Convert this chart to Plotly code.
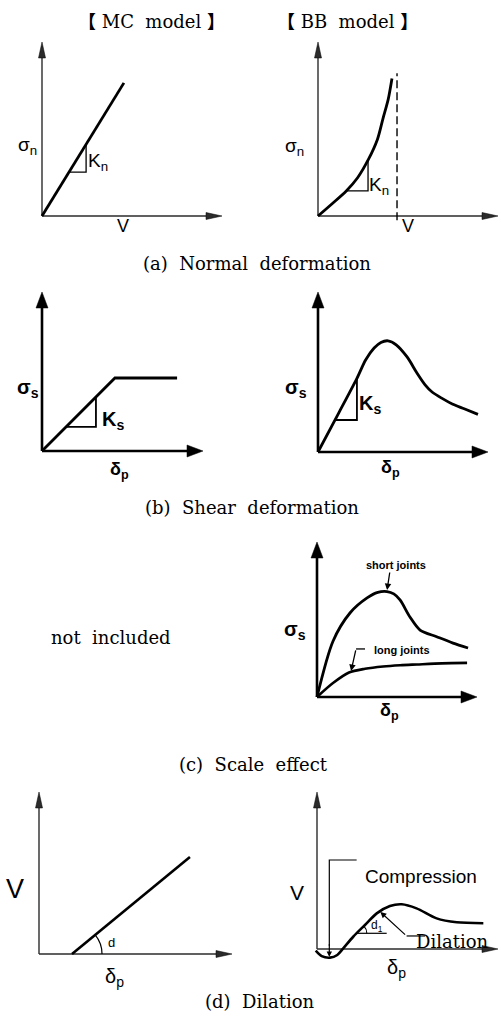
import plotly.graph_objects as go

W, H = 501, 1018
AX = 10  # every small diagram uses axes running 0..10

# ------------------------------------------------------------------ data
AXIS_X = [0, AX]
AXIS_Y = [0, AX]

# (a) Normal deformation
MC_N_X = [0, 4.55]
MC_N_Y = [0, 7.65]
MC_N_TRI_X = [1.5, 2.45, 2.45]
MC_N_TRI_Y = [2.52, 2.52, 4.12]
BB_N_X = [0, 0.8, 1.57, 2.2, 2.8, 3.3, 3.61, 3.9, 4.11]
BB_N_Y = [0, 0.72, 1.44, 2.2, 3.25, 4.4, 5.6, 6.7, 7.9]
BB_N_TRI_X = [1.56, 2.78, 2.78]
BB_N_TRI_Y = [1.44, 1.44, 3.22]
BB_N_LIMIT_X = [4.39, 4.39]
BB_N_LIMIT_Y = [-0.25, 8.2]

# (b) Shear deformation
MC_S_X = [0, 4.53, 8.39]
MC_S_Y = [0, 4.59, 4.59]
MC_S_TRI_X = [1.5, 3.35, 3.35]
MC_S_TRI_Y = [1.52, 1.52, 3.39]
BB_S_X = [0, 1.2, 2.29, 2.8, 3.3, 3.7, 4.12, 4.6, 5.24, 5.82, 6.3, 6.71, 7.3, 7.9, 8.6, 9.41]
BB_S_Y = [0, 2.4, 4.6, 5.75, 6.5, 6.85, 6.95, 6.7, 5.94, 4.94, 4.2, 3.75, 3.35, 3.0, 2.7, 2.35]
BB_S_TRI_X = [1.0, 2.29, 2.29]
BB_S_TRI_Y = [2.0, 2.0, 4.58]

# (c) Scale effect
SHORT_X = [0, 1.0, 2.06, 3.13, 3.8, 4.38, 4.8, 5.19, 5.81, 6.44, 7.48, 8.5, 9.44]
SHORT_Y = [0, 3.6, 5.42, 6.39, 6.75, 6.8, 6.65, 6.26, 5.16, 4.32, 3.89, 3.48, 3.16]
LONG_X = [0, 1.0, 2.0, 3.0, 4.13, 5.2, 6.25, 7.8, 9.38]
LONG_Y = [0, 0.9, 1.58, 1.82, 1.97, 2.05, 2.1, 2.17, 2.2]
SHORT_LEADER = dict(head=(4.38, 6.9), tail=(4.56, 8.13))
LONG_LEADER_X = [2.44, 3.0]
LONG_LEADER_Y = [3.1, 3.1]
LONG_LEADER = dict(head=(2.13, 1.68), tail=(2.44, 3.1))

# (d) Dilation
MC_D_X = [1.71, 7.82]
MC_D_Y = [0, 5.99]
BB_D_X = [-0.07, 0.26, 0.72, 1.12, 1.45, 2.0, 2.65, 3.3, 4.03, 4.68, 5.5, 6.61, 7.72, 9.19]
BB_D_Y = [-0.1, -0.45, -0.55, -0.38, 0.04, 0.78, 1.53, 2.27, 2.74, 2.85, 2.59, 1.95, 1.70, 1.64]
COMP_X = [2.19, 0.68, 0.68]
COMP_Y = [5.67, 5.67, 0.2]
COMP_ARROW = dict(head=(0.68, -0.5), tail=(0.68, 0.4))
D1_X = [2.2, 3.85]
D1_Y = [1.0, 1.0]
DIL_X = [4.95, 5.97]
DIL_Y = [0.83, 0.83]
DIL_ARROW = dict(head=(3.5, 2.36), tail=(4.95, 0.83))

# ------------------------------------------------------------------ layout geometry
SANS = "Liberation Sans, Arial, sans-serif"
SERIF = "DejaVu Serif, Noto Sans CJK SC, serif"

STYLES = {
    "thin": dict(w=1.4, color="#2b2b2b", alen=16, awid=7),
    "bold": dict(w=2.6, color="#000000", alen=16, awid=12),
}
PANELS = {
    "aMC": dict(ox=42, oy=216, lx=180, ly=174, style="thin"),
    "aBB": dict(ox=318, oy=216, lx=180, ly=174, style="thin"),
    "bMC": dict(ox=42, oy=451, lx=161, ly=159, style="bold"),
    "bBB": dict(ox=318, oy=452, lx=170, ly=160, style="bold"),
    "cBB": dict(ox=317, oy=697, lx=160, ly=155, style="bold"),
    "dMC": dict(ox=39, oy=954, lx=193, ly=162, style="thin"),
    "dBB": dict(ox=317, oy=949, lx=181, ly=157, style="thin"),
}
PAD_L, PAD_B, PAD_T, PAD_R = 40, 38, 4, 3

fig = go.Figure()
axes_layout = {}
for i, (key, p) in enumerate(PANELS.items(), start=1):
    sx, sy = p["lx"] / AX, p["ly"] / AX
    x0 = max(0, p["ox"] - PAD_L)
    x1 = min(W, p["ox"] + p["lx"] + PAD_R)
    ytop = p["oy"] - p["ly"] - PAD_T
    ybot = min(H, p["oy"] + PAD_B)
    sfx = "" if i == 1 else str(i)
    axes_layout["xaxis" + sfx] = dict(domain=[x0 / W, x1 / W],
                                      range=[(x0 - p["ox"]) / sx, (x1 - p["ox"]) / sx],
                                      visible=False, anchor="y" + sfx, fixedrange=True)
    axes_layout["yaxis" + sfx] = dict(domain=[1 - ybot / H, 1 - ytop / H],
                                      range=[(p["oy"] - ybot) / sy, (p["oy"] - ytop) / sy],
                                      visible=False, anchor="x" + sfx, fixedrange=True)
    p["xa"], p["ya"], p["sx"], p["sy"] = "x" + sfx, "y" + sfx, sx, sy


def line(panel, x, y, width=2.6, color="#000", dash="solid", shape="linear"):
    p = PANELS[panel]
    fig.add_trace(go.Scatter(x=x, y=y, mode="lines", xaxis=p["xa"], yaxis=p["ya"],
                             line=dict(width=width, color=color, dash=dash, shape=shape,
                                       smoothing=0.8 if shape == "spline" else None),
                             hoverinfo="skip", showlegend=False))


def label(panel, text, x, y, size=18, family=SANS, xanchor="center"):
    p = PANELS[panel]
    fig.add_annotation(x=x, y=y, xref=p["xa"], yref=p["ya"], text=text, showarrow=False,
                       font=dict(family=family, size=size, color="#000"),
                       xanchor=xanchor, yanchor="middle")


def arrow(panel, spec, width=1.2, size=1.0):
    p = PANELS[panel]
    fig.add_annotation(x=spec["head"][0], y=spec["head"][1], ax=spec["tail"][0], ay=spec["tail"][1],
                       xref=p["xa"], yref=p["ya"], axref=p["xa"], ayref=p["ya"], text="",
                       showarrow=True, arrowhead=2, arrowsize=size, arrowwidth=width,
                       arrowcolor="#000", standoff=0)


def pix_path(panel, anchor, path, fill=None, width=1.2, color="#000"):
    p = PANELS[panel]
    fig.add_shape(type="path", xref=p["xa"], yref=p["ya"], xsizemode="pixel", ysizemode="pixel",
                  xanchor=anchor[0], yanchor=anchor[1], path=path,
                  fillcolor=fill if fill else "rgba(0,0,0,0)",
                  line=dict(width=width if not fill else 0.5, color=color), layer="above")


# axes with arrowheads
for key, p in PANELS.items():
    st = STYLES[p["style"]]
    back_x = st["alen"] * 0.5 / p["sx"]
    back_y = st["alen"] * 0.5 / p["sy"]
    line(key, [AXIS_X[0], AXIS_X[1] - back_x], [0, 0], width=st["w"], color=st["color"])
    line(key, [0, 0], [AXIS_Y[0], AXIS_Y[1] - back_y], width=st["w"], color=st["color"])
    L, hw = st["alen"], st["awid"] / 2
    pix_path(key, (AXIS_X[1], 0), f"M0,0 L{-L},{hw} L{-L},{-hw} Z", fill=st["color"])
    pix_path(key, (0, AXIS_Y[1]), f"M0,0 L{-hw},{-L} L{hw},{-L} Z", fill=st["color"])

# (a)
line("aMC", MC_N_X, MC_N_Y, width=2.8)
line("aMC", MC_N_TRI_X, MC_N_TRI_Y, width=1.3)
line("aBB", BB_N_X, BB_N_Y, width=2.8, shape="spline")
line("aBB", BB_N_TRI_X, BB_N_TRI_Y, width=1.3)
line("aBB", BB_N_LIMIT_X, BB_N_LIMIT_Y, width=1.4, dash="8px,4px")
label("aMC", "σ<sub>n</sub>", -0.78, 4.02, size=19)
label("aMC", "K<sub>n</sub>", 3.1, 3.1, size=19)
label("aMC", "V", 4.5, -0.55, size=18)
label("aBB", "σ<sub>n</sub>", -1.3, 3.97, size=19)
label("aBB", "K<sub>n</sub>", 3.4, 1.75, size=19)
label("aBB", "V", 5.0, -0.6, size=18)

# (b)
line("bMC", MC_S_X, MC_S_Y, width=2.8)
line("bMC", MC_S_TRI_X, MC_S_TRI_Y, width=1.8)
line("bBB", BB_S_X, BB_S_Y, width=2.8, shape="spline")
line("bBB", BB_S_TRI_X, BB_S_TRI_Y, width=1.8)
label("bMC", "<b>σ<sub>s</sub></b>", -0.87, 3.96, size=20)
label("bMC", "<b>K<sub>s</sub></b>", 4.4, 1.9, size=20)
label("bMC", "<b>δ<sub>p</sub></b>", 4.84, -1.2, size=18)
label("bBB", "<b>σ<sub>s</sub></b>", -1.29, 4.0, size=20)
label("bBB", "<b>K<sub>s</sub></b>", 3.05, 3.0, size=20)
label("bBB", "<b>δ<sub>p</sub></b>", 4.24, -1.05, size=18)

# (c)
line("cBB", SHORT_X, SHORT_Y, width=2.8, shape="spline")
line("cBB", LONG_X, LONG_Y, width=2.6, shape="spline")
arrow("cBB", SHORT_LEADER, width=1.3, size=1.0)
line("cBB", LONG_LEADER_X, LONG_LEADER_Y, width=1.3)
arrow("cBB", LONG_LEADER, width=1.3, size=1.0)
label("cBB", "<b>short joints</b>", 4.94, 8.52, size=11)
label("cBB", "<b>long joints</b>", 5.31, 3.05, size=11)
label("cBB", "<b>σ<sub>s</sub></b>", -1.375, 4.32, size=20)
label("cBB", "<b>δ<sub>p</sub></b>", 4.56, -0.95, size=18)

# (d)
line("dMC", MC_D_X, MC_D_Y, width=2.6)
pix_path("dMC", (MC_D_X[0], MC_D_Y[0]), "M30,0 C30,6.94 27.59,13.68 23.18,19.04", width=1.2)
label("dMC", "d", 3.78, 0.74, size=13)
label("dMC", "V", -1.24, 4.0, size=27)
label("dMC", "δ<sub>p</sub>", 3.9, -1.48, size=20)

line("dBB", BB_D_X, BB_D_Y, width=2.6, shape="spline")
line("dBB", COMP_X, COMP_Y, width=1.2)
arrow("dBB", COMP_ARROW, width=1.2, size=0.9)
line("dBB", D1_X, D1_Y, width=1.2)
pix_path("dBB", (D1_X[0], D1_Y[0]), "M10,0 C10,2.65 8.94,5.2 7.07,7.07", width=1.1)
line("dBB", DIL_X, DIL_Y, width=1.2)
arrow("dBB", DIL_ARROW, width=1.2, size=1.0)
label("dBB", "Compression", 5.75, 4.65, size=19)
label("dBB", "d<sub>1</sub>", 3.31, 1.45, size=12)
label("dBB", "Dilation", 7.5, 0.5, size=18, family=SERIF)
label("dBB", "V", -1.12, 3.6, size=21)
label("dBB", "δ<sub>p</sub>", 4.4, -1.25, size=20)

# ------------------------------------------------------------------ captions
CAPTIONS = [
    ("<b>【</b>\u00a0MC\u00a0 model\u00a0<b>】</b>", 151, 22),
    ("<b>【</b>\u00a0BB\u00a0 model\u00a0<b>】</b>", 347, 22),
    ("(a)\u00a0 Normal\u00a0 deformation", 257, 263),
    ("(b)\u00a0 Shear\u00a0 deformation", 252, 507),
    ("not\u00a0 included", 111, 637),
    ("(c)\u00a0 Scale\u00a0 effect", 254, 764),
    ("(d)\u00a0 Dilation", 260, 1001),
]
for text, px, py in CAPTIONS:
    fig.add_annotation(x=px / W, y=1 - py / H, xref="paper", yref="paper", text=text,
                       showarrow=False, xanchor="center", yanchor="middle",
                       font=dict(family=SERIF, size=18, color="#000"))

fig.update_layout(width=W, height=H, margin=dict(l=0, r=0, t=0, b=0),
                  paper_bgcolor="white", plot_bgcolor="white", showlegend=False,
                  **axes_layout)
fig.write_html("out.html", config={"displayModeBar": False, "staticPlot": True},
               post_script="document.body.style.margin='0px';document.body.style.overflow='hidden';")
